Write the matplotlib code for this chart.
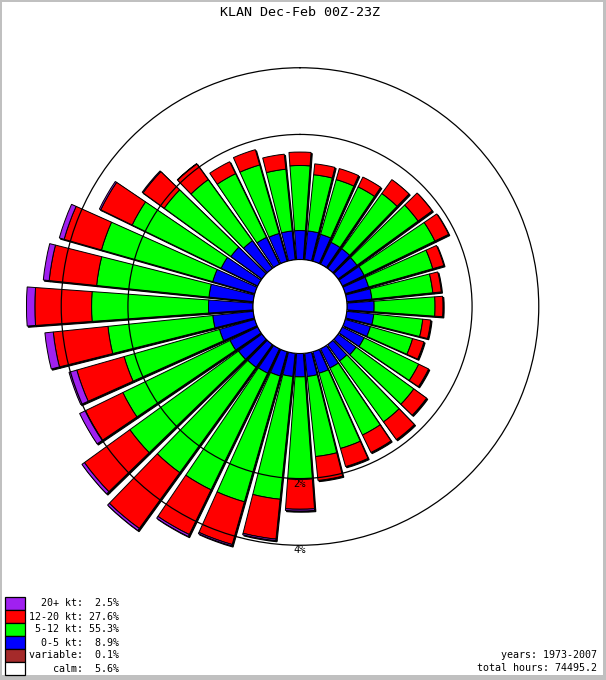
import numpy as np
import matplotlib
matplotlib.use("Agg")
import matplotlib.pyplot as plt
from matplotlib.patches import Rectangle
import matplotlib.transforms as mtransforms

# ---------------- data (percent of hours) ----------------
directions = list(range(10, 361, 10))
speed_0_5 = [0.26, 0.25, 0.21, 0.21, 0.20, 0.21, 0.21, 0.22, 0.24,
             0.24, 0.23, 0.21, 0.19, 0.17, 0.18, 0.19, 0.20, 0.20,
             0.20, 0.22, 0.24, 0.25, 0.26, 0.28, 0.35, 0.40, 0.45,
             0.45, 0.44, 0.40, 0.37, 0.32, 0.27, 0.26, 0.26, 0.26]
speed_5_12 = [0.86, 0.86, 0.92, 1.05, 1.19, 1.27, 1.02, 0.92, 0.93,
              0.71, 0.61, 0.90, 1.09, 1.15, 1.15, 1.24, 1.30, 1.82,
              2.38, 2.63, 2.63, 2.66, 2.80, 2.39, 1.93, 2.16, 2.56,
              2.44, 2.51, 1.98, 1.52, 1.31, 1.16, 1.16, 0.97, 1.03]
speed_12_20 = [0.22, 0.23, 0.22, 0.37, 0.39, 0.35, 0.24, 0.17, 0.16,
               0.15, 0.21, 0.22, 0.34, 0.49, 0.43, 0.43, 0.57, 0.82,
               1.25, 1.46, 1.66, 2.41, 1.95, 1.32, 1.49, 1.77, 1.96,
               1.59, 1.28, 1.04, 0.69, 0.47, 0.30, 0.36, 0.32, 0.29]
speed_20p = [0.00, 0.00, 0.00, 0.00, 0.00, 0.00, 0.00, 0.00, 0.00,
             0.00, 0.00, 0.00, 0.00, 0.00, 0.00, 0.00, 0.00, 0.05,
             0.05, 0.05, 0.08, 0.10, 0.12, 0.23, 0.28, 0.31, 0.33,
             0.22, 0.18, 0.05, 0.03, 0.01, 0.00, 0.00, 0.00, 0.00]

legend_names = ["20+ kt", "12-20 kt", "5-12 kt", "0-5 kt", "variable", "calm"]
legend_values = [2.5, 27.6, 55.3, 8.9, 0.1, 5.6]
legend_colors = ["#a020f0", "#ff0000", "#00ff00", "#0000ff", "#a52a2a", "#ffffff"]
ring_ticks = [2, 4]
title = "KLAN Dec-Feb 00Z-23Z"
info_lines = ["years: 1973-2007", "total hours: 74495.2"]

# ---------------- figure ----------------
W, H = 606, 680
fig = plt.figure(figsize=(W / 100, H / 100), dpi=100)
fig.patch.set_facecolor("#c0c0c0")
fig.add_artist(Rectangle((2 / W, 5 / H), 601 / W, 673 / H, transform=fig.transFigure,
                         facecolor="white", edgecolor="none", zorder=0))

MONO = "DejaVu Sans Mono"

# radial scale: equal-area rings outside the calm circle
R0 = 47.0
K = 13700.0


def fwd(p):
    return np.sqrt(np.maximum(R0 ** 2 + K * np.asarray(p, dtype=float), 0.0))


def inv(r):
    return (np.asarray(r, dtype=float) ** 2 - R0 ** 2) / K


P_MAX = 6.0
Rpx = float(fwd(P_MAX))
cx, cy = 300.0, H - 306.5
ax = fig.add_axes([(cx - Rpx) / W, (cy - Rpx) / H, 2 * Rpx / W, 2 * Rpx / H],
                  projection="polar")
ax.set_theta_zero_location("N")
ax.set_theta_direction(-1)
ax.set_rscale("function", functions=(fwd, inv))
ax.set_rlim(0, P_MAX)
ax.set_rorigin(float(inv(0.0)))
ax.patch.set_visible(False)
for s in ax.spines.values():
    s.set_visible(False)
ax.set_xticks([])
ax.set_rticks(ring_ticks)
ax.set_yticklabels([])
ax.yaxis.grid(True, color="black", linewidth=0.9, linestyle="-")
ax.set_axisbelow(False)

theta = np.deg2rad(directions)
width = np.deg2rad(8.2)
bands = [speed_0_5, speed_5_12, speed_12_20, speed_20p]
band_colors = ["#0000ff", "#00ff00", "#ff0000", "#a020f0"]
shadow = mtransforms.offset_copy(ax.transData, fig=fig, x=1.2, y=-1.2, units="dots")
bottom = np.zeros(len(directions))
for vals, col in zip(bands, band_colors):
    vals = np.asarray(vals, dtype=float)
    m = vals > 0
    sh = ax.bar(theta[m], vals[m], width=width, bottom=bottom[m], color="black",
                edgecolor="black", linewidth=0.8, zorder=0.9)
    for p in sh:
        p.set_transform(shadow)
    ax.bar(theta[m], vals[m], width=width, bottom=bottom[m], color=col,
           edgecolor="black", linewidth=0.7, zorder=1)
    bottom += vals

for t in ring_ticks:
    ax.text(np.pi, t, f"{t}%", ha="center", va="top", fontsize=7.5,
            family=MONO, color="black", zorder=5)

# ---------------- texts ----------------
fig.text(300 / W, 1 - 13 / H, title, ha="center", va="center", fontsize=9.6,
         family=MONO, color="black")

for i, (nm, val, col) in enumerate(zip(legend_names, legend_values, legend_colors)):
    top = 596.5 + 13 * i
    fig.add_artist(Rectangle((5 / W, (H - top - 13) / H), 20 / W, 13 / H,
                             transform=fig.transFigure, facecolor=col,
                             edgecolor="black", linewidth=0.9))
    fig.text(29 / W, 1 - (603.5 + 13 * i) / H, f"{nm + ':':>9} {val:4.1f}%",
             ha="left", va="center", fontsize=7.2, family=MONO, color="black")

for i, line in enumerate(info_lines):
    fig.text(597 / W, 1 - (655 + 13 * i) / H, line, ha="right", va="center",
             fontsize=7.2, family=MONO, color="black")

fig.savefig("out.png", dpi=100)
